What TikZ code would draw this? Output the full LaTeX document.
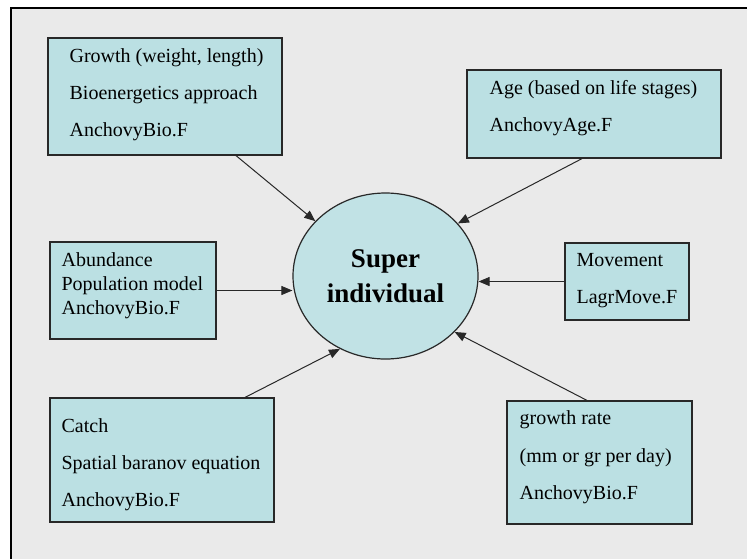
\documentclass[tikz,border=0pt]{standalone}
\usepackage{fontspec}
\setmainfont{Liberation Serif}
\usetikzlibrary{shapes.geometric}
\usetikzlibrary{arrows.meta}
\definecolor{panelgrey}{RGB}{234,234,234}
\definecolor{boxblue}{RGB}{187,224,227}
\definecolor{cellblue}{RGB}{193,226,229}
\definecolor{edgegrey}{RGB}{40,40,40}

\begin{document}
\begin{tikzpicture}[
            x=1pt, y=-1pt,
            modbox/.style={
                draw=edgegrey,
                fill=boxblue,
                line width=1.2pt,
                inner sep=0pt
            },
            modtext/.style={
                anchor=west,
                align=left,
                inner sep=0pt,
                font=\fontsize{20}{37}\selectfont
            },
            superell/.style={
                ellipse,
                draw=edgegrey,
                fill=cellblue,
                line width=1.2pt,
                inner sep=0pt,
                minimum width=185pt,
                minimum height=166pt,
                align=center,
                font=\fontsize{27}{35}\selectfont\bfseries
            },
            feed/.style={
                -{Triangle[length=11pt,width=9pt]},
                draw=edgegrey,
                line width=1pt
            }
        ]
        \useasboundingbox (0,0) rectangle (747,558);
        \fill[white] (0,0) rectangle (747,558);
        \draw[fill=panelgrey, line width=1.5pt] (11,8) rectangle (760,570);

        % central node
        \node[superell] (super) at (385.5,276) {Super\\individual};

        % model parts
        \node[modbox, minimum width=234pt, minimum height=117pt] (growth) at (165,96.5) {};
        \node[modtext] (growthtxt) at ([xshift=22pt,yshift=1.5pt]growth.west)
            {Growth (weight, length)\\Bioenergetics approach\\AnchovyBio.F};

        \node[modbox, minimum width=254pt, minimum height=88pt] (age) at (594,114) {};
        \node[modtext] (agetxt) at ([xshift=23pt,yshift=5.5pt]age.west)
            {Age (based on life stages)\\AnchovyAge.F};

        \node[modbox, minimum width=166pt, minimum height=97pt] (abundance) at (133,290.5) {};
        \node[modtext, font=\fontsize{20}{24}\selectfont] (abundancetxt) at ([xshift=12pt,yshift=4.5pt]abundance.west)
            {Abundance\\Population model\\AnchovyBio.F};

        \node[modbox, minimum width=224pt, minimum height=124pt] (catch) at (162,460) {};
        \node[modtext] (catchtxt) at ([xshift=12pt,yshift=-5pt]catch.west)
            {Catch\\Spatial baranov equation\\AnchovyBio.F};

        \node[modbox, minimum width=124pt, minimum height=77pt] (movement) at (627,281.5) {};
        \node[modtext] (movementtxt) at ([xshift=12pt,yshift=1pt]movement.west)
            {Movement\\LagrMove.F};

        \node[modbox, minimum width=185pt, minimum height=123pt] (rate) at (599.5,462.5) {};
        \node[modtext, font=\fontsize{20}{37.5}\selectfont] (ratetxt) at ([xshift=13pt,yshift=5pt]rate.west)
            {growth rate\\(mm or gr per day)\\AnchovyBio.F};

        % arrows into the super individual
        \draw[feed] ([xshift=71pt]growth.south) -- (super.142);
        \draw[feed] ([xshift=-12pt]age.south) -- (super.36);
        \draw[feed] (abundance.east) -- (abundance.east -| super.west);
        \draw[feed] ([xshift=83pt]catch.north) -- (super.238);
        \draw[feed] (movement.west) -- (movement.west -| super.east);
        \draw[feed] ([xshift=-12.5pt]rate.north) -- (super.321);
\end{tikzpicture}
\end{document}
